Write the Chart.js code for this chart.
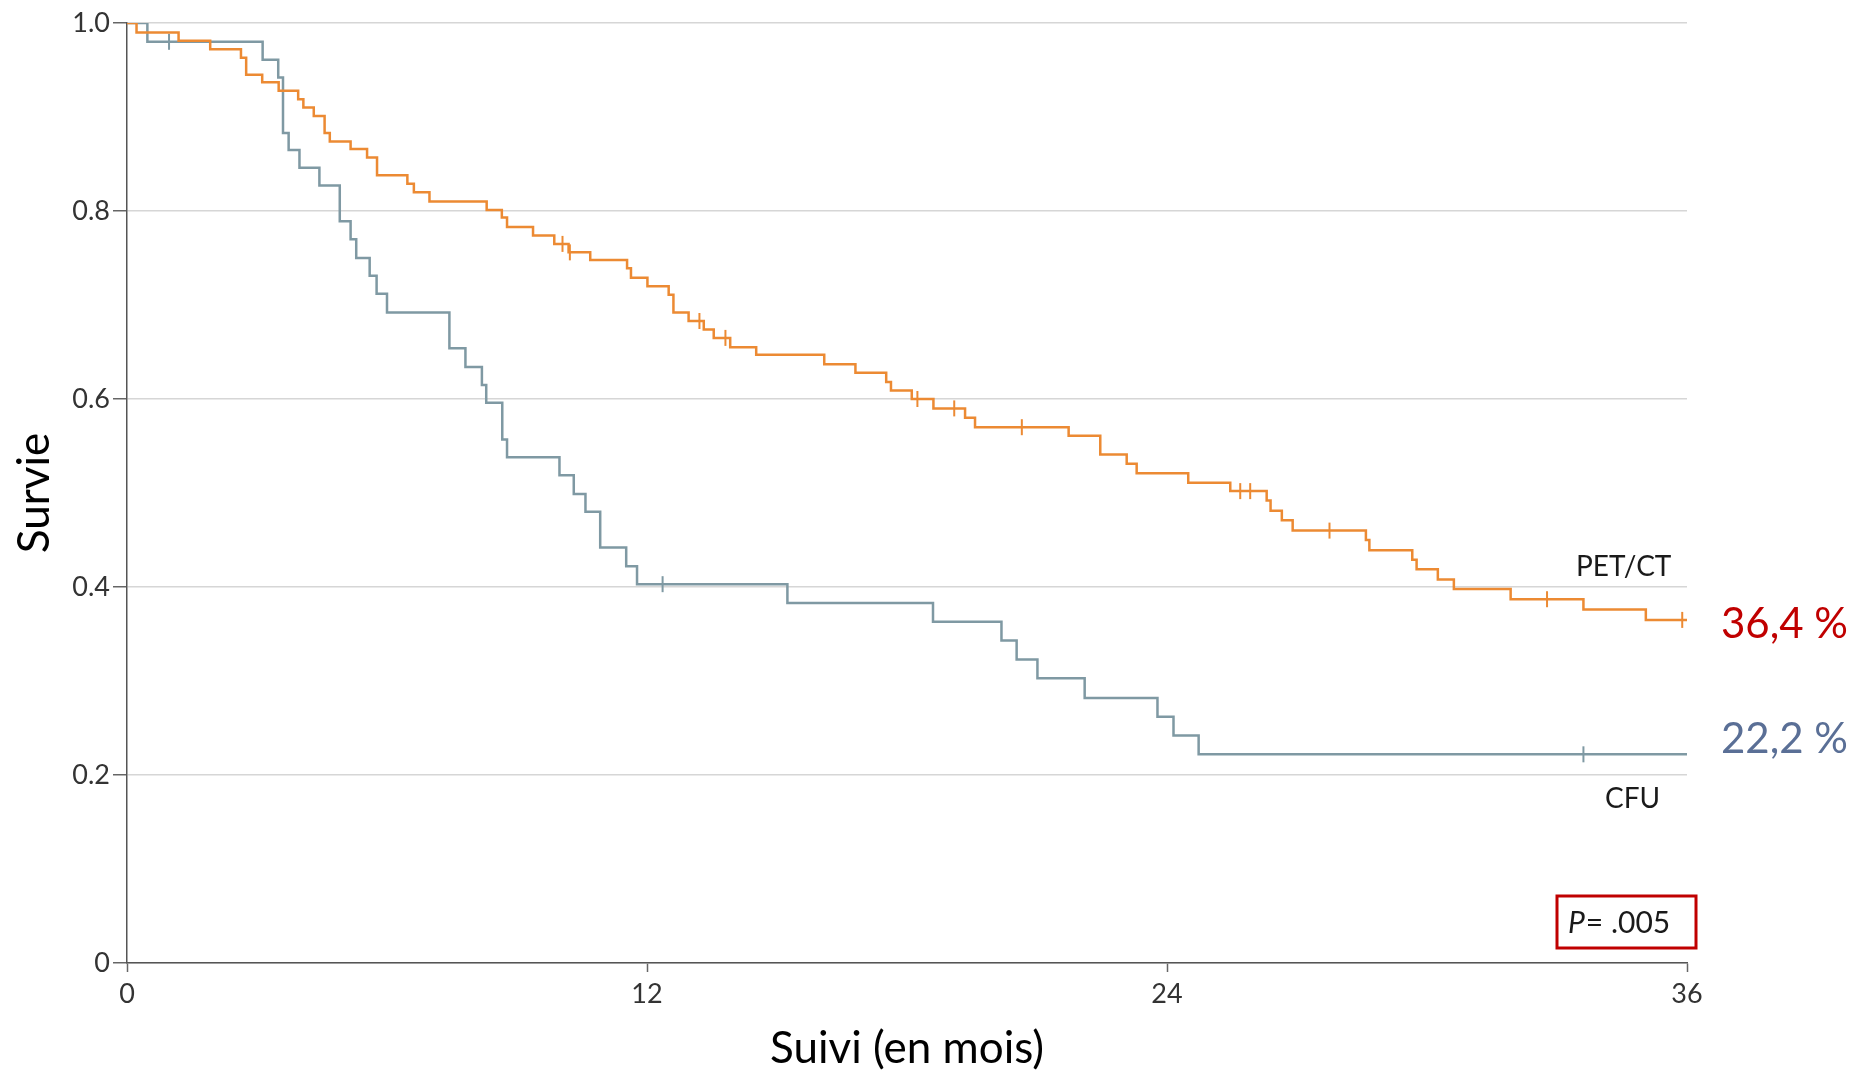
<!DOCTYPE html>
<html>
<head>
<meta charset="utf-8">
<script src="https://cdn.jsdelivr.net/npm/chart.js@4.4.1/dist/chart.umd.min.js"></script>
<style>
html,body{margin:0;padding:0;background:#ffffff;}
canvas{display:block;}
</style>
</head>
<body>
<canvas id="c" width="1872" height="1075"></canvas>
<script>
// ---- Data ----
const xTicks = [0, 12, 24, 36];
const yTicks = [0, 0.2, 0.4, 0.6, 0.8, 1.0];

const petTimes = [0, 0.22, 1.19, 1.92, 2.63, 2.75, 3.12, 3.50, 3.95, 4.07, 4.31, 4.56, 4.68, 5.16, 5.54, 5.77,
  6.47, 6.62, 6.98, 8.30, 8.65, 8.77, 9.37, 9.86, 10.19, 10.69, 11.54, 11.63, 12.01, 12.50, 12.61, 12.96,
  13.31, 13.54, 13.92, 14.52, 16.09, 16.81, 17.52, 17.63, 18.11, 18.61, 19.34, 19.57, 21.73, 22.46, 23.07,
  23.30, 24.49, 25.46, 26.30, 26.39, 26.65, 26.90, 28.59, 28.67, 29.66, 29.76, 30.25, 30.62, 31.93, 33.61,
  35.05, 36.00];
const petSurv = [1.000, 0.990, 0.981, 0.972, 0.963, 0.945, 0.937, 0.928, 0.919, 0.910, 0.901, 0.883, 0.874, 0.866, 0.857, 0.838,
  0.829, 0.820, 0.810, 0.801, 0.793, 0.783, 0.774, 0.765, 0.756, 0.748, 0.739, 0.729, 0.720, 0.711, 0.692, 0.683,
  0.674, 0.665, 0.655, 0.647, 0.637, 0.628, 0.618, 0.609, 0.600, 0.590, 0.580, 0.570, 0.561, 0.541, 0.531,
  0.521, 0.511, 0.502, 0.492, 0.481, 0.471, 0.460, 0.450, 0.439, 0.429, 0.419, 0.408, 0.398, 0.387, 0.376,
  0.365, 0.365];
const petCensorTimes = [10.05, 10.22, 13.21, 13.81, 18.24, 19.09, 20.65, 25.69, 25.92, 27.75, 32.77, 35.89];
const petCensorSurv  = [0.765, 0.756, 0.683, 0.665, 0.600, 0.590, 0.570, 0.502, 0.502, 0.460, 0.387, 0.365];

const cfuTimes = [0, 0.47, 3.13, 3.49, 3.60, 3.73, 3.98, 4.44, 4.91, 5.16, 5.29, 5.60, 5.76, 6.00, 7.44, 7.81,
  8.19, 8.29, 8.66, 8.77, 9.98, 10.31, 10.58, 10.92, 11.52, 11.77, 15.24, 18.60, 20.18, 20.53, 21.01, 22.10,
  23.78, 24.15, 24.73, 36.00];
const cfuSurv = [1.000, 0.980, 0.961, 0.942, 0.883, 0.865, 0.846, 0.827, 0.789, 0.770, 0.750, 0.731, 0.712, 0.692, 0.654, 0.634,
  0.615, 0.596, 0.557, 0.538, 0.519, 0.499, 0.480, 0.442, 0.422, 0.403, 0.383, 0.363, 0.343, 0.323, 0.303, 0.282,
  0.262, 0.242, 0.222, 0.222];
const cfuCensorTimes = [0.97, 12.36, 33.61];
const cfuCensorSurv  = [0.980, 0.403, 0.222];

const seriesNames = ['PET/CT', 'CFU'];
const finalLabels = ['36,4 %', '22,2 %'];
const pValueText = '= .005';

// ---- Build ----
const pts = (xs, ys) => xs.map((t, i) => ({x: t, y: ys[i]}));
const ORANGE = '#ec8a33';
const SLATE = '#7f99a3';

const annot = {
  id: 'annot',
  afterDatasetsDraw(chart) {
    const {ctx, scales: {x, y}} = chart;
    ctx.save();
    ctx.textBaseline = 'middle';
    ctx.textAlign = 'right';
    ctx.fillStyle = '#1a1a1a';
    ctx.font = '28px Lato';
    ctx.fillText(seriesNames[0], x.getPixelForValue(35.64), y.getPixelForValue(0.421));
    ctx.fillText(seriesNames[1], x.getPixelForValue(35.38), y.getPixelForValue(0.174));

    ctx.textAlign = 'left';
    ctx.font = '42px Lato';
    ctx.fillStyle = '#c00000';
    ctx.fillText(finalLabels[0], x.right + 34, y.getPixelForValue(0.360));
    ctx.fillStyle = '#5a6f96';
    ctx.fillText(finalLabels[1], x.right + 34, y.getPixelForValue(0.238));

    // P value box
    const bx0 = x.right - 130, bx1 = x.right + 9, by0 = y.bottom - 67, by1 = y.bottom - 15;
    ctx.strokeStyle = '#c00000';
    ctx.lineWidth = 3;
    ctx.strokeRect(bx0, by0, bx1 - bx0, by1 - by0);
    ctx.fillStyle = '#1a1a1a';
    ctx.font = 'italic 30px Lato';
    const tx = bx0 + 11, ty = (by0 + by1) / 2 + 1;
    ctx.fillText('P', tx, ty);
    const wP = ctx.measureText('P').width;
    ctx.font = '30px Lato';
    ctx.fillText(pValueText, tx + wP + 1, ty);
    ctx.restore();
  }
};

new Chart(document.getElementById('c'), {
  type: 'line',
  data: {
    datasets: [
      {label: seriesNames[1] + ' censor', type: 'scatter', data: pts(cfuCensorTimes, cfuCensorSurv),
       showLine: false, pointStyle: 'line', rotation: 90, pointRadius: 8, pointBorderWidth: 2,
       borderColor: SLATE, backgroundColor: SLATE, order: 4},
      {label: seriesNames[1], data: pts(cfuTimes, cfuSurv), stepped: 'before', borderColor: SLATE,
       borderWidth: 2.5, pointRadius: 0, fill: false, order: 3},
      {label: seriesNames[0] + ' censor', type: 'scatter', data: pts(petCensorTimes, petCensorSurv),
       showLine: false, pointStyle: 'line', rotation: 90, pointRadius: 8, pointBorderWidth: 2,
       borderColor: ORANGE, backgroundColor: ORANGE, order: 2},
      {label: seriesNames[0], data: pts(petTimes, petSurv), stepped: 'before', borderColor: ORANGE,
       borderWidth: 2.5, pointRadius: 0, fill: false, order: 1}
    ]
  },
  options: {
    responsive: false,
    animation: false,
    devicePixelRatio: 1,
    layout: {padding: {left: 0, right: 185, top: 23, bottom: 0}},
    plugins: {legend: {display: false}, tooltip: {enabled: false}},
    scales: {
      x: {
        type: 'linear', min: 0, max: 36,
        afterBuildTicks: s => { s.ticks = xTicks.map(v => ({value: v})); },
        afterFit: s => { s.height = 112; },
        ticks: {font: {family: 'Lato', size: 27}, color: '#333', padding: 6, maxRotation: 0,
                callback: v => String(v)},
        grid: {drawOnChartArea: false, drawTicks: true, tickLength: 9, tickColor: '#666', tickWidth: 1.5},
        border: {display: true, color: '#555', width: 1.5},
        title: {display: true, text: 'Suivi (en mois)', font: {family: 'Lato', size: 44},
                color: '#000', padding: {top: 0, bottom: 0}}
      },
      y: {
        type: 'linear', min: 0, max: 1,
        afterBuildTicks: s => { s.ticks = yTicks.map(v => ({value: v})); },
        afterFit: s => { s.width = 127; },
        ticks: {font: {family: 'Lato', size: 27}, color: '#333', padding: 3,
                callback: v => (v === 0 ? '0' : Number(v).toFixed(1))},
        grid: {color: '#d6d6d6', lineWidth: 1.5, drawTicks: true, tickLength: 14, tickColor: '#666', tickWidth: 1.5},
        border: {display: true, color: '#555', width: 1.5},
        title: {display: true, text: 'Survie', font: {family: 'Lato', size: 44}, color: '#000',
                padding: {top: 8, bottom: 0}}
      }
    }
  },
  plugins: [annot]
});
</script>
</body>
</html>
